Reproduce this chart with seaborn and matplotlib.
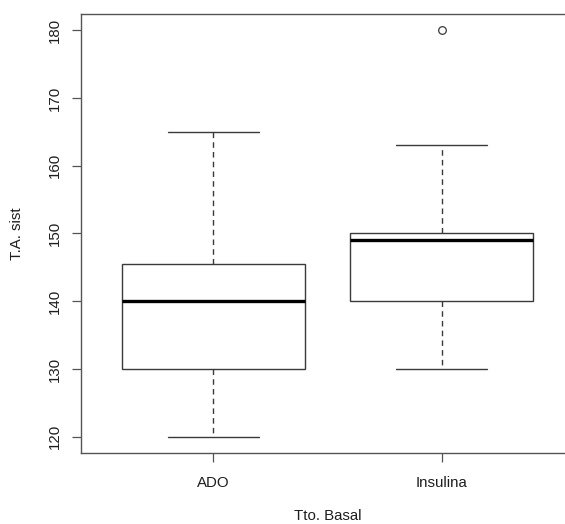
import matplotlib
matplotlib.use("Agg")
import matplotlib.pyplot as plt
import seaborn as sns
import pandas as pd

# Systolic blood pressure by baseline treatment
groups = ["ADO", "Insulina"]
ado_values = [120, 126, 130, 136, 140, 142, 145.5, 152, 165]
insulina_values = [130, 135, 140, 146, 149, 150, 150, 163, 180]

x_label = "Tto. Basal"
y_label = "T.A. sist"
y_ticks = [120, 130, 140, 150, 160, 170, 180]

df = pd.DataFrame({
    "grupo": [groups[0]] * len(ado_values) + [groups[1]] * len(insulina_values),
    "valor": ado_values + insulina_values,
})

sns.set_theme(style="white")
plt.rcParams["font.family"] = ["Liberation Sans", "DejaVu Sans"]

line_col = "#3a3a3a"
text_col = "#1e1e1e"
font_size = 10.8

fig = plt.figure(figsize=(5.65, 5.24), dpi=100)
fig.patch.set_facecolor("white")
ax = fig.add_axes([81 / 565, 1 - 453 / 524, (574 - 81) / 565, (453 - 14) / 524])

sns.boxplot(
    data=df, x="grupo", y="valor", order=groups, ax=ax,
    color="white", linecolor=line_col, linewidth=1.0, width=0.8, whis=1.5,
    boxprops=dict(facecolor="white", edgecolor=line_col, linewidth=1.0),
    whiskerprops=dict(color=line_col, linestyle=(0, (4, 3)), linewidth=1.0),
    capprops=dict(color=line_col, linewidth=1.0),
    medianprops=dict(color="black", linewidth=2.4),
    flierprops=dict(marker="o", markerfacecolor="none", markeredgecolor=line_col,
                    markersize=5.5, markeredgewidth=0.9),
)

ax.set_xlim(-0.58, 1.58)
ax.set_ylim(117.6, 182.4)
ax.set_yticks(y_ticks)
ax.set_yticklabels([str(t) for t in y_ticks], rotation=90, va="center")

for side in ["left", "top", "bottom"]:
    ax.spines[side].set_visible(True)
    ax.spines[side].set_color("#555555")
    ax.spines[side].set_linewidth(1.0)
ax.spines["right"].set_visible(False)

ax.tick_params(axis="both", which="both", direction="out", length=6.5, width=0.9,
               color="#555555", labelsize=font_size, labelcolor=text_col)
ax.tick_params(axis="y", left=True, pad=7.5)
ax.tick_params(axis="x", bottom=True, pad=10)

ax.set_xlabel(x_label, fontsize=font_size, color=text_col)
ax.set_ylabel(y_label, fontsize=font_size, color=text_col)
ax.xaxis.set_label_coords(0.5, (453 - 516) / 439)
ax.yaxis.set_label_coords((17 - 81) / 493, 0.5)
ax.xaxis.label.set_va("center")
ax.yaxis.label.set_va("center")

fig.savefig("out.png", dpi=100, facecolor="white")
